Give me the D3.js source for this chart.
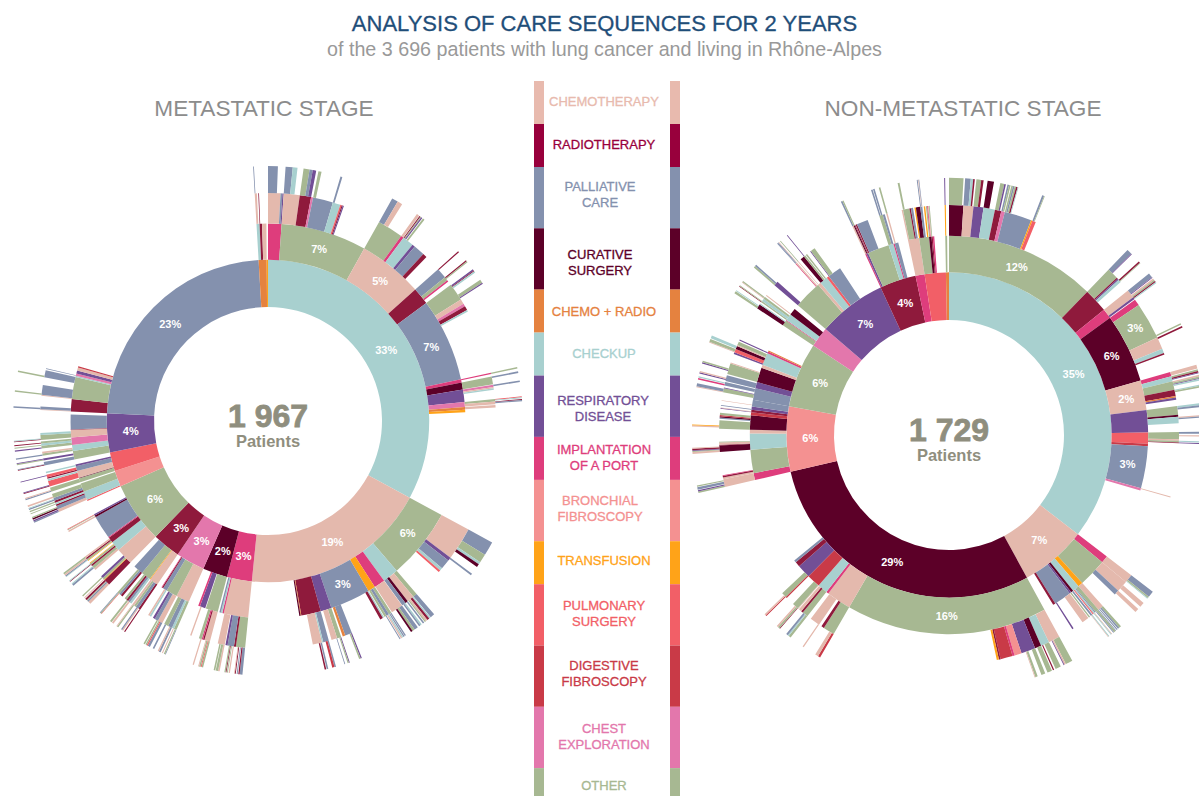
<!DOCTYPE html>
<html>
<head>
<meta charset="utf-8">
<style>
body { margin: 0; background: #fff; }
svg { display: block; }
text { font-family: "Liberation Sans", Arial, sans-serif; }
.legend-label { font-size: 13px; text-anchor: middle; stroke-width: .3px; }
.pct { fill: #fff; font-size: 11px; font-weight: bold; text-anchor: middle; }
</style>
</head>
<body>
<script src="https://cdn.jsdelivr.net/npm/d3@7"></script>
<script>
// care codes, legend order
var careCodes = ["CH","RT","PA","CS","CR","CK","RS","IM","BF","TR","PS","DF","CE","OT"];
var careColors = ["#e4b9ad","#8f1a3c","#8491ae","#5c0028","#e5823f","#a8d0cf","#724f96","#de3d7c","#f49191","#ffa318","#f25f67","#c93a47","#e377ac","#a7b892"];
var legendBandColors = ["#e8baae","#98003c","#8491ae","#5c0028","#e5823f","#a8d0cf","#724f96","#de3d7c","#f49191","#ffa318","#f25f67","#c93a47","#e377ac","#a7b892"];
var legendLabels = [["CHEMOTHERAPY"],["RADIOTHERAPY"],["PALLIATIVE","CARE"],["CURATIVE","SURGERY"],["CHEMO + RADIO"],["CHECKUP"],["RESPIRATORY","DISEASE"],["IMPLANTATION","OF A PORT"],["BRONCHIAL","FIBROSCOPY"],["TRANSFUSION"],["PULMONARY","SURGERY"],["DIGESTIVE","FIBROSCOPY"],["CHEST","EXPLORATION"],["OTHER"]];
var legendSpans = [2,2,3,3,2,2,3,2,3,2,3,3,3,2];

// nodes are [care code, % of the stage's patients, following steps]
// "gap" = stretch of the ring with nothing drawn
var mCheckup = [
  ["IM",1.1,[["CH",.88,[["PA",.62]]],["PA",.13],["RS",.09]]],
  ["OT",7,[["CH",1.13,[["PA",.45],["CK",.3]]],["RT",.8,[["OT",.38],["PA",.2],["RS",.22]]],["CE",.14],["PA",1.42,[["OT",.2]]],["CK",.55,[["PA",.12]]],["PS",.1],["RT",.08],["RS",.08]]],
  ["CH",5.3,[["OT",1.83,[["PA",.4],["CH",.32]]],["IM",.2,[["CH",.17]]],["CK",.8,[["RT",.07],["OT",.07],["RS",.08],["gap",.05],["OT",.12]]],["RS",.2],["PA",.8],["RT",.3]]],
  ["RT",1.4,[["PA",.75,[["RT",.08]]],["OT",.25,[["RT",.08],["OT",.08]]],["IM",.12]]],
  ["PA",6.8,[["OT",1.25,[["gap",.05],["RS",.1],["RT",.06],["CK",.1],["gap",.55],["OT",.22],["RS",.08]]],["CH",.35],["CE",.2],["RT",.3],["CK",.12]]],
  ["IM",.28,[["IM",.1,[["OT",.1]]]]],
  ["CS",.58,[["OT",.55,[["PA",.1]]]]],
  ["RS",1,[["CE",.15,[["PA",.1]]],["CH",.1],["CK",.1]]],
  ["CE",.42,[["OT",.17,[["PS",.06],["CK",.05]]],["CH",.2,[["RT",.05],["PA",.08]]]]],
  ["CR",.22,[["CH",.18]]],
  ["TR",.2]
];
var mChemo = [
  ["OT",5.8,[["CH",2.33,[["PA",.9],["OT",.55],["CK",.15],["CS",.2]]],["RS",.25,[["PA",.12]]],["PA",.7],["CK",.2],["PS",.15]]],
  ["CK",1.3,[["OT",.3,[["PA",.28]]],["CH",.5,[["CK",.1],["RT",.15],["CH",.12],["OT",.08]]],["CS",.2,[["PA",.1]]],["PA",.28,[["CK",.1],["PA",.1]]]]],
  ["IM",.9,[["CH",.85,[["PA",.25],["OT",.15],["CS",.12]]]]],
  ["TR",.6,[["OT",.2,[["PA",.08],["gap",.02],["PA",.08]]],["PA",.2,[["CK",.08],["CH",.08]]],["OT",.15,[["PA",.06]]]]],
  ["PA",3.3,[["CK",.1],["RT",.2],["gap",2.2],["PA",.5,[["RS",.08],["OT",.1]]],["CR",.18]]],
  ["RS",.9,[["OT",.3,[["RS",.06],["OT",.08]]],["CH",.4,[["PA",.05]]]]],
  ["RT",1.6,[["PA",.4,[["PA",.1],["DF",.14]]],["CK",.1],["CH",.65,[["PA",.1],["gap",.03],["RT",.1]]]]],
  ["CR",.06],
  ["CS",.1]
];
var mImplant = [
  ["CH",2,[["OT",.65,[["PA",.18],["RT",.08],["gap",.04],["PA",.06],["gap",.06],["RT",.06],["CH",.05]]],["RT",.14],["PA",.45,[["CH",.08],["gap",.05],["OT",.06],["gap",.03],["RT",.05],["OT",.08]]],["RS",.15],["gap",.05],["CH",.5,[["CH",.1],["OT",.15],["gap",.03],["OT",.1]]]]],
  ["IM",.12],
  ["CK",.12],
  ["PA",.12]
];
var mCurative = [
  ["OT",1,[["CH",.4,[["OT",.1],["PS",.06],["OT",.1],["CH",.06]]],["RT",.1],["IM",.1],["OT",.2,[["CH",.08]]]]],
  ["gap",.05],
  ["RS",.45,[["gap",.3],["CH",.1]]],
  ["IM",.15]
];
var mChest = [
  ["CH",1.1,[["OT",.2,[["PA",.05],["OT",.08]]],["CK",.15,[["CH",.06]]],["PA",.3,[["PA",.12],["CH",.08]]],["OT",.3,[["gap",.15],["PA",.1]]]]],
  ["OT",.9,[["CH",.35,[["PA",.15],["PS",.08],["OT",.08]]],["PA",.25,[["OT",.1]]],["RS",.15]]],
  ["PA",.35,[["CK",.12],["CH",.12]]],
  ["RT",.1],
  ["IM",.05]
];
var mRadio = [
  ["CH",.7,[["RT",.15,[["RT",.08]]],["PA",.22,[["CH",.08],["PA",.08]]],["OT",.15],["CH",.15,[["OT",.1],["CH",.05]]]]],
  ["TR",.05],
  ["OT",.8,[["CK",.15],["PA",.15,[["CH",.12]]],["RT",.15,[["OT",.12]]],["OT",.15]]],
  ["PA",.8,[["RT",.15],["PA",.15],["OT",.15,[["PS",.05],["OT",.08],["PA",.06]]]]]
];
var mOther = [
  ["CH",1.4,[["RT",.45,[["CH",.18],["PA",.1],["OT",.05],["RT",.12]]],["TR",.05],["OT",.15,[["CH",.05]]],["RS",.15,[["OT",.08]]]]],
  ["CK",.8,[["CH",.15],["OT",.2,[["PA",.12],["CK",.06]]],["RT",.12],["OT",.12,[["RT",.05],["CK",.05]]],["TR",.05]]],
  ["RT",.45,[["TR",.05],["OT",.12,[["CK",.06],["PA",.1]]],["RT",.1,[["CH",.1]]],["CH",.12,[["OT",.1]]]]],
  ["IM",.08],
  ["PA",1.9],
  ["CS",.15,[["CH",.1]]],
  ["RS",.12,[["OT",.05],["PS",.04]]]
];
var mBronchial = [
  ["PS",.1],
  ["CK",.7,[["CH",.2,[["PA",.08],["RS",.08]]],["PA",.25,[["CS",.1],["OT",.08]]],["RT",.12],["CK",.1,[["OT",.05]]]]],
  ["OT",.7,[["RT",.15,[["OT",.08]]],["PA",.2,[["PA",.08],["CK",.05]]],["OT",.3,[["CH",.1]]]]]
];
var mPulmonary = [
  ["OT",.35,[["OT",.3,[["PA",.08],["CH",.06]]]]],
  ["CS",.05],
  ["CH",.55,[["PS",.4,[["RT",.05],["RS",.06]]],["CK",.12]]],
  ["PA",.4,[["RT",.1],["PS",.2,[["gap",.1],["RS",.05]]]]],
  ["RS",.15,[["CK",.1]]]
];
var mRespiratory = [
  ["OT",.7,[["PA",.25,[["RT",.05],["PA",.05]]],["gap",.1],["RS",.15,[["OT",.08],["RS",.05]]]]],
  ["CK",.5,[["OT",.15,[["PA",.08]]],["CH",.12]]],
  ["CE",.6,[["OT",.2,[["RS",.08]]],["CK",.15,[["OT",.06]]],["OT",.15,[["RT",.06]]]]],
  ["CH",.6,[["OT",.35,[["RT",.05],["CK",.05]]],["CK",.15]]],
  ["RT",.05],
  ["PA",1.2]
];
var mPalliative = [
  ["RT",1,[["CH",.05],["PA",.2,[["PA",.1]]]]],
  ["OT",1.8,[["CH",.06],["PA",.7,[["OT",.1]]],["gap",.55],["PA",.5,[["OT",.1]]]]],
  ["CK",.1],
  ["CE",.2,[["PA",.05]]],
  ["RS",.25],
  ["CH",.25],
  ["DF",.1]
];
var mChemoRadio = [
  ["CK",.25,[["CH",.15,[["PA",.05]]]]],
  ["RT",.2,[["RT",.05]]],
  ["CH",.35]
];

var nCheckup = [
  ["OT",12.2,[["CS",1,[["OT",.9]]],["CH",.7,[["PA",.35],["CK",.15],["RT",.1]]],["RS",.7,[["OT",.3],["RT",.15]]],["CK",.8,[["CS",.4]]],["RT",.45,[["OT",.25],["RS",.1]]],["CE",.25,[["PA",.1],["OT",.1]]],["PA",1.9,[["OT",.1],["PA",.1],["OT",.1],["RT",.1],["CK",.05]]],["TR",.1],["PS",.25,[["PA",.12],["OT",.05]]]]],
  ["RT",1.97,[["OT",.8,[["PA",.33],["RS",.05]]],["RT",.1],["RS",.1],["CK",.2,[["RT",.1],["OT",.05]]]]],
  ["IM",.8,[["CH",.6,[["PA",.3],["RS",.05],["gap",.05],["CH",.1],["OT",.1]]],["RS",.15,[["RT",.08],["CK",.07]]]]],
  ["CS",5.6,[["IM",.45],["OT",2.6,[["gap",2.4],["OT",.1]]],["CH",.85,[["RT",.1]]],["CK",.3],["RT",.12]]],
  ["CH",2.4,[["IM",.3,[["CH",.25]]],["CK",.35,[["OT",.1],["RT",.1],["RS",.05]]],["OT",.6,[["CH",.1],["OT",.1],["RS",.05],["CK",.1]]],["RT",.45,[["CK",.08],["OT",.1]]],["CR",.1],["RS",.15]]],
  ["RS",1.8,[["OT",.6,[["CK",.12],["PA",.12]]],["CS",.15],["CK",.45,[["CH",.08],["PA",.08]]]]],
  ["PS",.9,[["OT",.5,[["PA",.12],["gap",.1],["CH",.08]]],["CH",.1],["OT",.12,[["CK",.08]]],["RT",.05,[["RS",.05]]]]],
  ["DF",.2],
  ["PA",3.4],
  ["CE",.2,[["CH",.08]]]
];
var nChemo = [
  ["IM",.6,[["CH",.6,[["PA",.4],["OT",.1],["CK",.05]]]]],
  ["OT",2.3,[["CH",.8,[["gap",.3],["CH",.3]]],["PA",.35,[["CH",.25]]]]],
  ["TR",.4,[["CH",.4,[["OT",.15],["PA",.1],["gap",.03],["PA",.07]]]]],
  ["CK",.55,[["OT",.25,[["PA",.05],["OT",.12],["PA",.06]]],["PA",.08],["CK",.1,[["CH",.05],["CK",.05]]],["PS",.07]]],
  ["CS",.2,[["PA",.12,[["CK",.06],["CH",.04]]]]],
  ["RS",.15,[["OT",.1]]],
  ["PA",1.4,[["CH",.5],["gap",.75],["RS",.1]]],
  ["RT",.2]
];
var nCurative = [
  ["OT",16.3,[["CH",.8,[["OT",.45],["CH",.1],["RS",.05]]],["CK",.6,[["OT",.35],["gap",.1],["RT",.08]]],["CS",.45,[["OT",.3]]],["RS",1,[["OT",.25],["gap",.25],["OT",.15],["CH",.05]]],["BF",.5],["IM",.15],["DF",.85],["RT",.12],["TR",.15]]],
  ["CH",2,[["OT",.8,[["DF",.15],["CH",.2]]],["RT",.2],["gap",.2],["CH",.7,[["CH",.08]]]]],
  ["IM",.2],
  ["CK",.8,[["OT",.4,[["OT",.15],["CK",.08],["PA",.12]]],["RT",.15],["CH",.2]]],
  ["DF",1.1,[["CH",.05],["OT",.45,[["RT",.05],["OT",.12],["CH",.1]]]]],
  ["RS",1.1,[["DF",.1],["OT",.35,[["DF",.07],["CH",.1]]]]],
  ["RT",.4],
  ["PA",.2]
];
var nBronchial = [
  ["IM",.55,[["CH",.55,[["OT",.1],["RS",.08],["gap",.04],["PA",.15],["gap",.03],["OT",.08]]]]],
  ["OT",1.9,[["CH",.12],["RT",.1],["IM",.05]]],
  ["CK",1.3,[["CS",.45,[["CH",.12],["OT",.06],["RS",.05],["RT",.1],["CH",.05]]],["RT",.05],["CH",.15],["OT",.05]]],
  ["CH",.3],
  ["CS",1.15,[["OT",.6,[["gap",.1],["CH",.08],["TR",.05]]],["gap",.1],["PA",.08],["CS",.1],["DF",.08],["OT",.15]]],
  ["DF",.25],
  ["RT",.2,[["RS",.04],["CH",.04]]],
  ["RS",.25,[["PA",.06]]],
  ["PA",.55,[["gap",.1],["CH",.04]]]
];
var nOther = [
  ["PA",.95,[["gap",.15],["OT",.28,[["CH",.05],["PA",.2]]],["RS",.05],["gap",.15],["PA",.25,[["IM",.1],["gap",.03],["CK",.08]]]]],
  ["RS",.5,[["PA",.4,[["gap",.06],["RS",.08],["CH",.08]]]]],
  ["CS",1.2,[["OT",.75,[["gap",.2],["RS",.08],["OT",.1]]],["CH",.08]]],
  ["CH",.25],
  ["CK",1,[["RS",.12],["PS",.25,[["CH",.06],["OT",.18]]],["CS",.22,[["gap",.04],["CK",.18]]],["CH",.08],["OT",.25]]],
  ["IM",.15,[["RS",.08]]],
  ["CR",.1]
];
var nChest = [
  ["OT",.45,[["CS",.32,[["OT",.15],["gap",.03],["CK",.05]]],["CK",.08]]],
  ["IM",.06],
  ["CK",.55,[["OT",.1,[["RT",.1],["OT",.1]]],["CK",.2],["OT",.15,[["CH",.05],["OT",.08]]]]],
  ["CS",.55,[["CH",.08]]]
];
var nRespiratory = [
  ["OT",2.3,[["RS",.32,[["OT",.12],["PA",.1]]],["gap",1.75],["IM",.05,[["PA",.05]]],["CH",.1,[["PA",.08],["CH",.05]]]]],
  ["CH",.25,[["CH",.05,[["OT",.1]]]]],
  ["CK",.65,[["CS",.3],["OT",.12,[["RS",.05]]],["gap",.05],["OT",.1]]],
  ["PS",.2],
  ["PA",1.1,[["RS",.06],["OT",.32]]]
];
var nRadio = [
  ["IM",.1,[["CH",.1,[["PA",.1]]]]],
  ["RS",.15,[["CS",.08,[["OT",.08]]],["RT",.05]]],
  ["OT",1.75,[["RT",.1],["PA",.8]]],
  ["CK",.4,[["OT",.25,[["PA",.1],["gap",.03],["PA",.1]]],["PA",.15]]],
  ["IM",.1],
  ["PA",.3,[["CH",.1,[["OT",.1]]]]]
];
var nImplant = [
  ["CH",.9,[["CH",.1],["OT",.45,[["OT",.12]]],["RT",.1],["PA",.15]]]
];
var nPulmonary = [
  ["OT",.8,[["TR",.1],["CS",.3],["PA",.15,[["PA",.08],["gap",.03],["CH",.05],["PA",.05]]],["gap",.1],["TR",.1]]],
  ["CS",.2,[["OT",.1],["IM",.06],["CH",.06]]],
  ["RT",.1,[["OT",.06]]],
  ["IM",.12]
];
var nChemoRadio = [
  ["OT",.15,[["TR",.08,[["RS",.06]]]]]
];

// level one of each ring, clockwise from the top
var metaSectors = [["CK",32.9,mCheckup],["CH",18.7,mChemo],["IM",2.5,mImplant],["CS",2.47,mCurative],["CE",2.9,mChest],["RT",2.8,mRadio],["OT",6.1,mOther],["BF",1.6,mBronchial],["PS",1.9,mPulmonary],["RS",3.9,mRespiratory],["PA",23.3,mPalliative],["CR",.8,mChemoRadio],["TR",.13]];
var nonMetaSectors = [["CK",35.4,nCheckup],["CH",6.6,nChemo],["CS",29.3,nCurative],["BF",6.45,nBronchial],["OT",6.45,nOther],["CE",2,nChest],["RS",6.8,nRespiratory],["RT",3.6,nRadio],["IM",.9,nImplant],["PS",2.1,nPulmonary],["CR",.3,nChemoRadio]];

var width = 1199;
var height = 796;
var labelMin = 2.35; // smaller slices carry no % text

var color = d3.scaleOrdinal().domain(careCodes).range(careColors);

var svg = d3.select("body").append("svg")
    .attr("width", width)
    .attr("height", height);

svg.append("text").text("ANALYSIS OF CARE SEQUENCES FOR 2 YEARS")
    .attr("x", 604.5).attr("y", 31)
    .attr("text-anchor", "middle")
    .attr("fill", "#1f4e79")
    .attr("font-size", 22)
    .attr("stroke", "#1f4e79").attr("stroke-width", .3);
svg.append("text").text("of the 3 696 patients with lung cancer and living in Rh\u00f4ne-Alpes")
    .attr("x", 604.5).attr("y", 56)
    .attr("text-anchor", "middle")
    .attr("fill", "#999")
    .attr("font-size", 19.7);

// children can never be wider than their parent, what is left stays white
function fit(d) {
  var kids = d[2] || [];
  var total = d3.sum(kids, function(c) { return c[1]; });
  var k = total > d[1] ? d[1] / total : 1;
  var node = { code: d[0], size: d[1] };
  node.children = kids.map(function(c) { return fit([c[0], c[1] * k, c[2]]); });
  return node;
}

function drawSunburst(cx, cy, innerRadius, sectors, title, titleX, count) {
  var g = svg.append("g").attr("transform", "translate(" + cx + "," + cy + ")");
  var top = ["root", d3.sum(sectors, function(s) { return s[1]; }), sectors];
  var root = d3.hierarchy(fit(top))
      .sum(function(d) { return Math.max(0, d.size - d3.sum(d.children, function(c) { return c.size; })); });
  d3.partition().size([2 * Math.PI, 5])(root);

  // equal area rings
  var radius = d3.scaleSqrt().domain([0, 5]).range([0, innerRadius * Math.sqrt(5)]);
  var arc = d3.arc()
      .startAngle(function(d) { return d.x0; })
      .endAngle(function(d) { return d.x1; })
      .innerRadius(function(d) { return radius(d.y0); })
      .outerRadius(function(d) { return radius(d.y1); });

  var nodes = root.descendants().filter(function(d) { return d.depth > 0 && d.data.code != "gap"; });
  g.selectAll("path").data(nodes).enter().append("path")
      .attr("d", arc)
      .attr("fill", function(d) { return color(d.data.code); });

  g.selectAll("text.pct").data(nodes.filter(function(d) { return d.data.size >= labelMin; })).enter().append("text")
      .attr("class", "pct")
      .attr("transform", function(d) { return "translate(" + arc.centroid(d) + ")"; })
      .attr("dy", ".35em")
      .text(function(d) { return Math.round(d.data.size) + "%"; });

  g.append("text").text(count)
      .attr("y", 6).attr("text-anchor", "middle")
      .attr("fill", "#8f8e7e")
      .attr("stroke", "#8f8e7e").attr("stroke-width", .8)
      .attr("font-family", "DejaVu Sans")
      .attr("font-weight", "bold")
      .attr("font-size", 32);
  g.append("text").text("Patients")
      .attr("y", 26).attr("text-anchor", "middle")
      .attr("fill", "#8f8e7e")
      .attr("font-weight", "bold")
      .attr("font-size", 16.5);

  svg.append("text").text(title)
      .attr("x", titleX).attr("y", 116)
      .attr("text-anchor", "middle")
      .attr("fill", "#8c8c8c")
      .attr("font-size", 22.6);
}

drawSunburst(268, 421, 114, metaSectors, "METASTATIC STAGE", 264, "1 967");
drawSunburst(949, 435, 115, nonMetaSectors, "NON-METASTATIC STAGE", 963, "1 729");

// legend column
var spanHeight = { 2: 43, 3: 61.3 };
var legendNudge = [-1,-1,-3,4.5,1,0,3,0,-2,-2,-1,-2,0,-3.5];
var legendShift = [0,0,-4,-4,0,0,-1,0,-4,0,0,0,0,0];
var y = 81;
legendLabels.forEach(function(lines, i) {
  var h = spanHeight[legendSpans[i]];
  [534, 670].forEach(function(x) {
    svg.append("rect")
        .attr("x", x).attr("y", y)
        .attr("width", 10).attr("height", h)
        .attr("fill", legendBandColors[i]);
  });
  lines.forEach(function(line, j) {
    svg.append("text").attr("class", "legend-label")
        .attr("x", 604 + legendShift[i])
        .attr("y", y + h / 2 + 4 - (lines.length - 1) * 8 + j * 16 + legendNudge[i])
        .attr("fill", legendBandColors[i])
        .attr("stroke", legendBandColors[i])
        .text(line);
  });
  y += h;
});
</script>
</body>
</html>
